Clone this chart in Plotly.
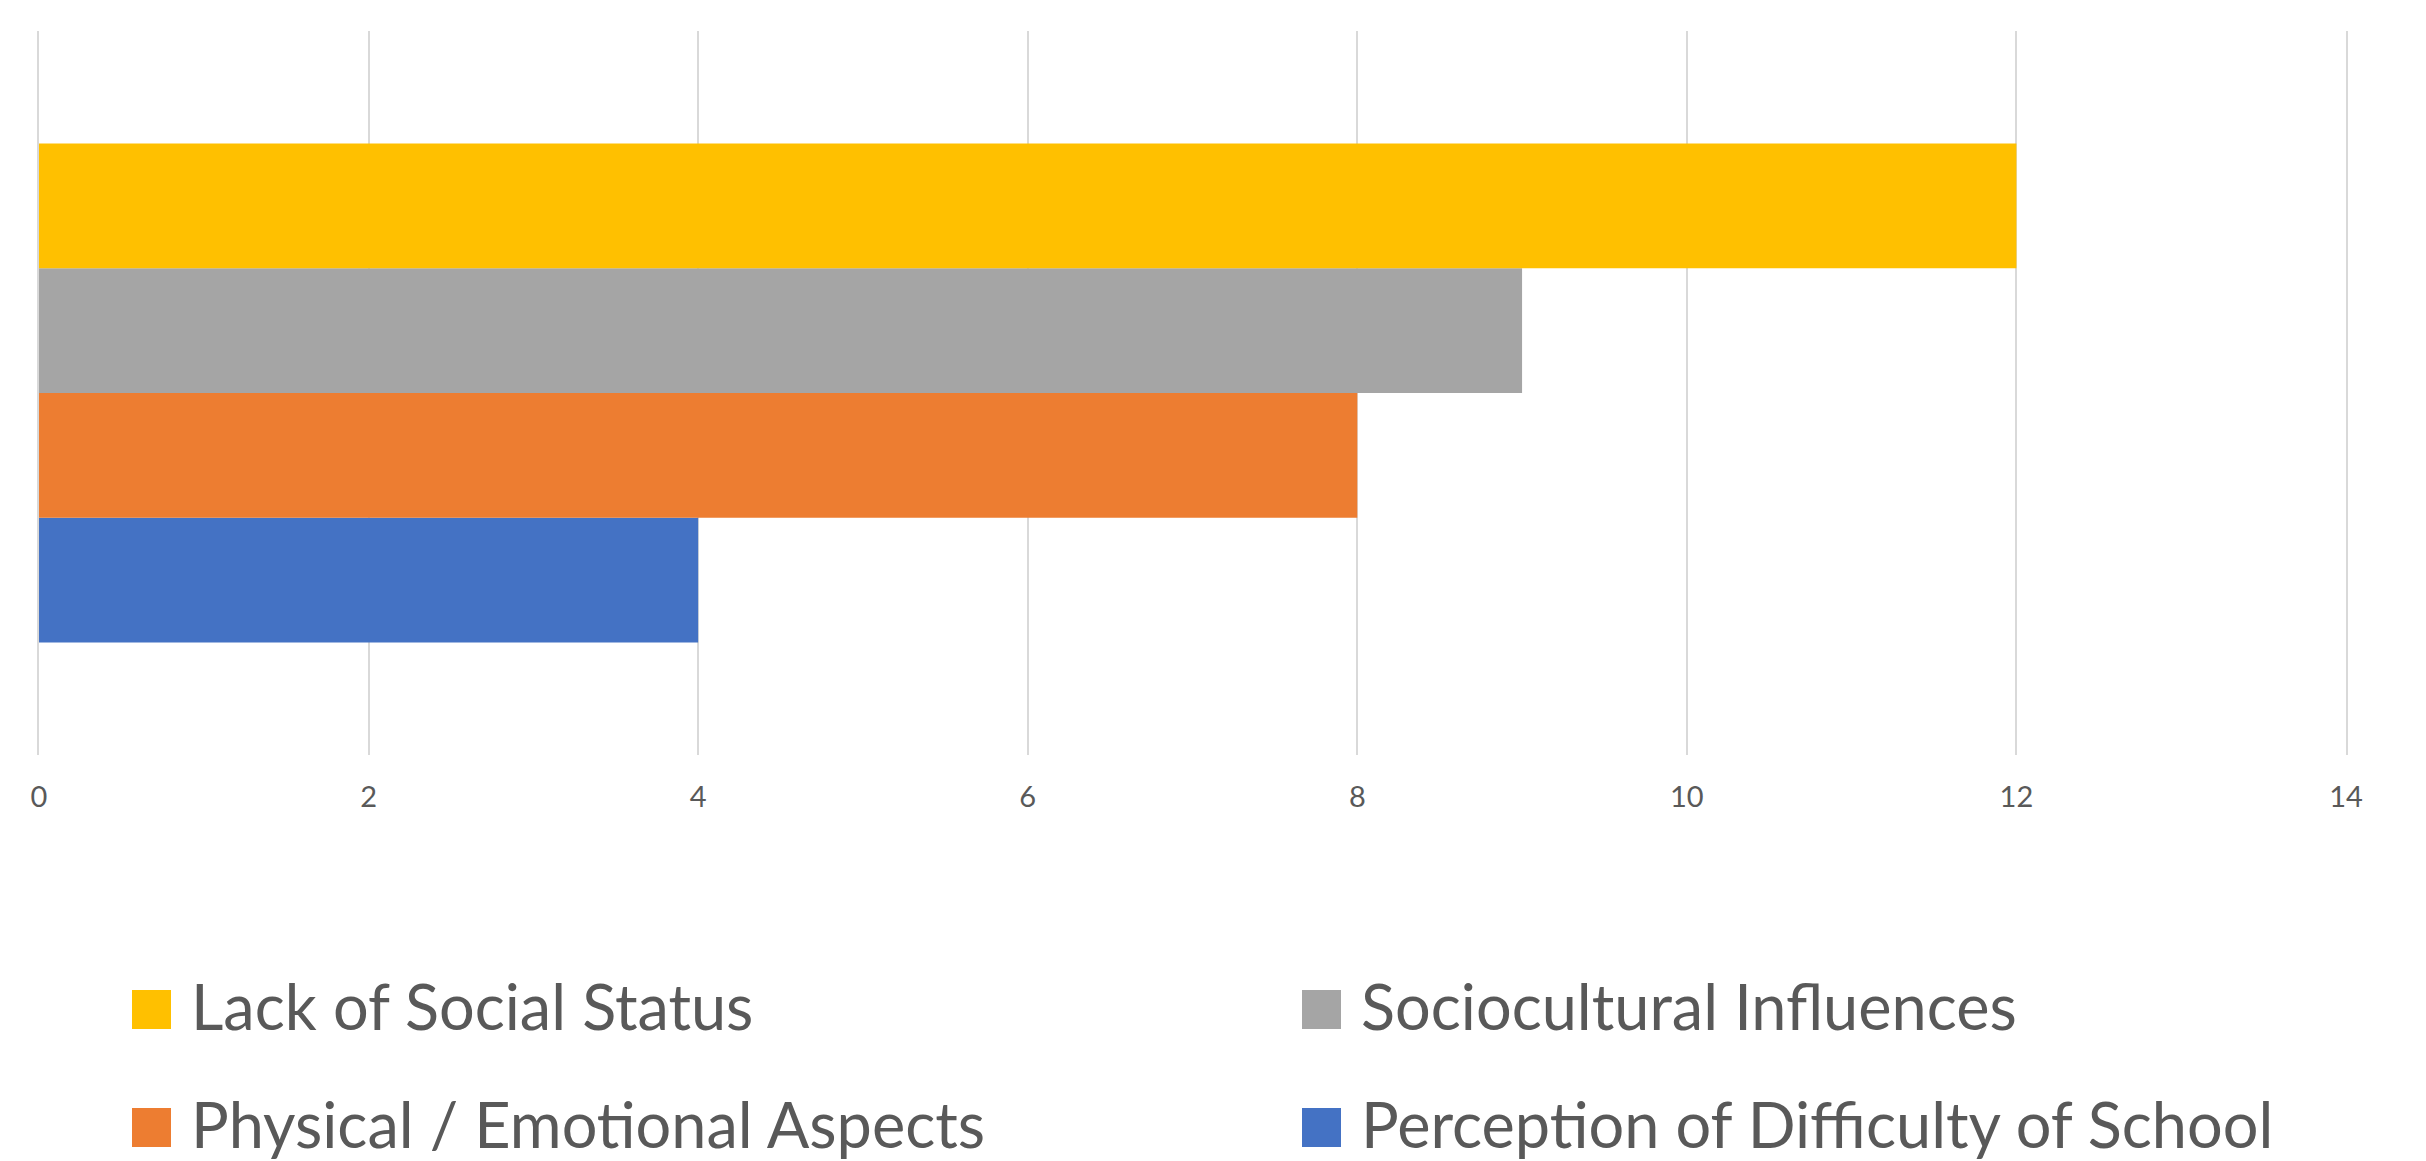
import plotly.graph_objects as go

# ---- data ----
series_names = ["Perception of Difficulty of School", "Physical / Emotional Aspects",
                "Sociocultural Influences", "Lack of Social Status"]
series_values = [4, 8, 9, 12]
series_colors = ["#4472C4", "#ED7D31", "#A5A5A5", "#FFC000"]
category = ["Reasons"]
x_ticks = [0, 2, 4, 6, 8, 10, 12, 14]

W, H = 2426, 1161
ML, MR, MT, MB = 39, 80, 31, 406
PW, PH = W - ML - MR, H - MT - MB

def px2x(px):
    return (px - ML) / PW

def py2y(py):
    return 1 - (py - MT) / PH

fig = go.Figure()
for name, val, col in zip(series_names, series_values, series_colors):
    fig.add_trace(go.Bar(y=category, x=[val], name=name, orientation="h",
                         marker=dict(color=col, line=dict(width=0)),
                         showlegend=False))

fig.update_layout(
    width=W, height=H,
    margin=dict(l=ML, r=MR, t=MT, b=MB, autoexpand=False),
    paper_bgcolor="white", plot_bgcolor="white",
    barmode="group", bargap=0.311, bargroupgap=0,
    font=dict(family="Lato, 'Open Sans', sans-serif", color="#595959"),
    xaxis=dict(range=[0, 14], tickvals=x_ticks, showgrid=True, gridcolor="#D9D9D9",
               gridwidth=1.5, zeroline=False, showline=False,
               tickfont=dict(size=29, color="#595959"), ticklabelstandoff=22),
    yaxis=dict(showticklabels=False, showgrid=False, zeroline=False,
               showline=True, mirror=True, linecolor="#D9D9D9", linewidth=1.5),
)

# ---- legend (drawn manually, 2 columns) ----
legend_order = [3, 2, 1, 0]
col_x = [132, 1302]
row_y = [1009.5, 1127.5]
sq = 39
for i, idx in enumerate(legend_order):
    r, c = divmod(i, 2)
    x0 = col_x[c]
    yc = row_y[r]
    fig.add_shape(type="rect", xref="paper", yref="paper",
                  x0=px2x(x0), x1=px2x(x0 + sq),
                  y0=py2y(yc + sq / 2), y1=py2y(yc - sq / 2),
                  fillcolor=series_colors[idx], line=dict(width=0))
    fig.add_annotation(xref="paper", yref="paper", x=px2x(x0 + sq + 18), y=py2y(yc - 4),
                       text=series_names[idx], showarrow=False, xanchor="left",
                       yanchor="middle", font=dict(size=63, color="#595959"))

fig.write_html("out.html", config={"displayModeBar": False},
               post_script="document.body.style.margin='0';document.body.style.padding='0';"
                           "document.body.style.overflow='hidden';")
